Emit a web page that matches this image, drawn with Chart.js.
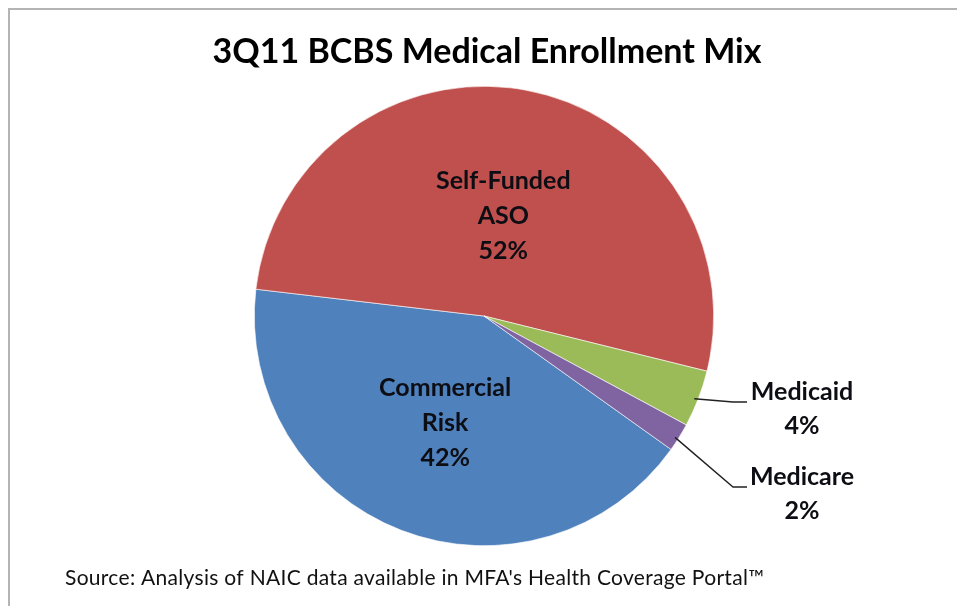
<!DOCTYPE html>
<html>
<head>
<meta charset="utf-8">
<script src="https://cdn.jsdelivr.net/npm/chart.js@4.4.1/dist/chart.umd.min.js"></script>
<style>
  html, body { margin: 0; padding: 0; background: #fff; }
  #wrap { width: 957px; height: 606px; position: relative; }
</style>
</head>
<body>
<div id="wrap"><canvas id="mixChart" width="957" height="606"></canvas></div>
<script>
const segments = ['Commercial Risk', 'Self-Funded ASO', 'Medicaid', 'Medicare'];
const shares = [42, 52, 4, 2];
const sliceColors = ['#4F81BD', '#C0504D', '#9BBB59', '#8064A2'];
const chartTitle = '3Q11 BCBS Medical Enrollment Mix';
const sourceNote = 'Source: Analysis of NAIC data available in MFA\'s Health Coverage Portal';

const FONT = 'Lato, "Liberation Sans", sans-serif';

// label lines for each slice: inside slices for the big ones, outside w/ leader for small ones
const labelLines = [['Commercial', 'Risk'], ['Self-Funded', 'ASO'], ['Medicaid'], ['Medicare']];
const outsideLabel = [false, false, true, true];

const decorPlugin = {
    id: 'decor',
    beforeDraw(chart) {
        const ctx = chart.ctx;
        ctx.save();
        ctx.fillStyle = '#fff';
        ctx.fillRect(0, 0, chart.width, chart.height);
        ctx.strokeStyle = '#b4b4b4';
        ctx.lineWidth = 2;
        ctx.strokeRect(9, 9, chart.width + 20, chart.height + 20);
        ctx.restore();
    },
    afterDatasetsDraw(chart) {
        const ctx = chart.ctx;
        const meta = chart.getDatasetMeta(0);
        ctx.save();
        ctx.fillStyle = '#000';
        ctx.textAlign = 'center';
        ctx.textBaseline = 'middle';
        ctx.font = 'bold 34px ' + FONT;
        ctx.fillText(chartTitle, 487, 52);

        ctx.textAlign = 'left';
        ctx.font = '21px ' + FONT;
        ctx.letterSpacing = '0.3px';
        ctx.fillStyle = '#111';
        ctx.fillText(sourceNote + '\u2122', 65, 578);
        ctx.letterSpacing = '0px';

        ctx.font = 'bold 25px ' + FONT;
        ctx.fillStyle = '#0d0d14';
        ctx.textAlign = 'center';
        const lineH = 35;
        meta.data.forEach((arc, i) => {
            const lines = labelLines[i].concat([shares[i] + '%']);
            const mid = (arc.startAngle + arc.endAngle) / 2;
            const r = arc.outerRadius;
            if (!outsideLabel[i]) {
                const cx = arc.x + Math.cos(mid) * r * 0.47;
                const cy = arc.y + Math.sin(mid) * r * 0.47 + 6;
                const y0 = cy - (lines.length - 1) * lineH / 2;
                lines.forEach((t, k) => ctx.fillText(t, cx, y0 + k * lineH));
            } else {
                const sx = arc.x + Math.cos(mid) * r;
                const sy = arc.y + Math.sin(mid) * r;
                const ty = i === 2 ? 402 : 487;
                ctx.strokeStyle = '#222';
                ctx.lineWidth = 1.4;
                ctx.beginPath();
                ctx.moveTo(sx - 4, sy);
                ctx.lineTo(733, ty);
                ctx.lineTo(747, ty);
                ctx.stroke();
                ctx.fillText(lines[0], 802, ty - 10);
                ctx.fillText(lines[1], 802, ty + 24);
            }
        });
        ctx.restore();
    }
};

new Chart(document.getElementById('mixChart').getContext('2d'), {
    type: 'pie',
    data: {
        labels: segments,
        datasets: [{
            data: shares,
            backgroundColor: sliceColors,
            borderColor: '#ffffff',
            borderWidth: 0.6
        }]
    },
    options: {
        responsive: false,
        animation: false,
        rotation: 125.5,
        layout: { padding: { left: 254, right: 243, top: 86, bottom: 60 } },
        plugins: {
            legend: { display: false },
            tooltip: { enabled: false },
            title: { display: false }
        }
    },
    plugins: [decorPlugin]
});
</script>
</body>
</html>
